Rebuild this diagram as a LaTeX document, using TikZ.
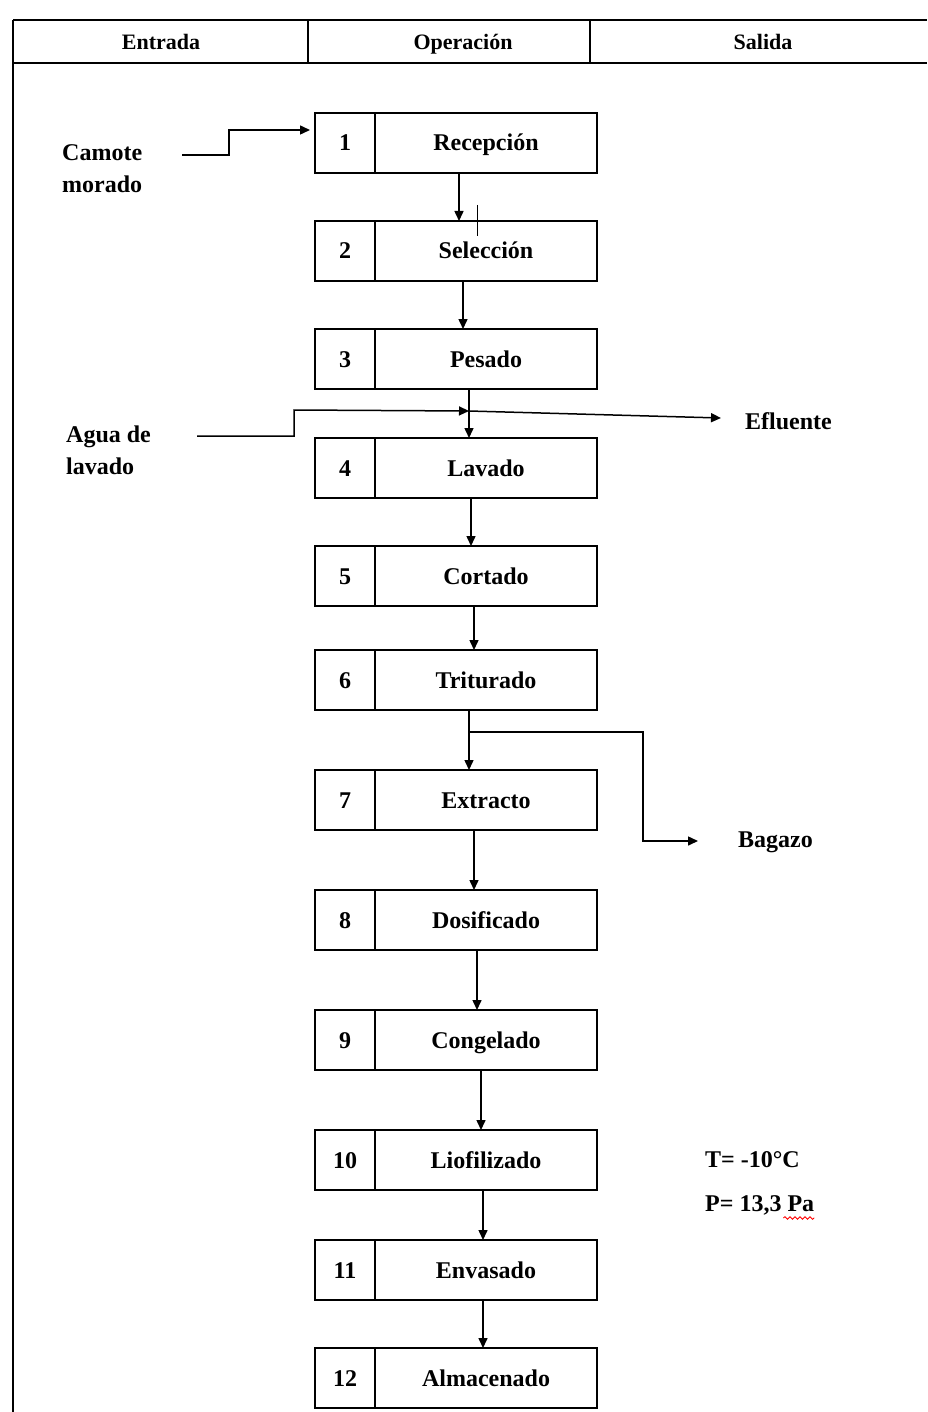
\documentclass[tikz,border=0pt]{standalone}
\usepackage{fontspec}
\setmainfont{Liberation Serif}
\usetikzlibrary{positioning,arrows.meta,calc,decorations.pathmorphing}

\begin{document}
\begin{tikzpicture}[x=1pt,y=-1pt,
  every node/.style={font=\fontsize{24}{32}\selectfont\bfseries},
  num/.style={draw,line width=1.6pt,outer sep=0pt,inner sep=0pt,minimum width=60pt,minimum height=60pt,text height=19pt,text depth=3pt},
  oper/.style={draw,line width=1.6pt,outer sep=0pt,inner sep=0pt,minimum width=222pt,minimum height=60pt,text height=19pt,text depth=3pt},
  lbl/.style={align=left,anchor=west,inner sep=0pt},
  head/.style={font=\fontsize{22}{25}\selectfont\bfseries,text height=18pt,text depth=3pt},
  linea/.style={line width=1.5pt},
  arrow/.style={-{Triangle[length=10pt,width=9pt]},line width=1.5pt}
]
  \useasboundingbox (0,0) rectangle (927,1412);

  % tabla
  \draw[line width=1.8pt] (13,20) -- (927,20);
  \draw[line width=1.8pt] (13,63) -- (927,63);
  \draw[line width=1.8pt] (13,20) -- (13,1412);
  \draw[line width=1.8pt] (308,20) -- (308,63);
  \draw[line width=1.8pt] (590,20) -- (590,63);
  \node[head] (hent) at (161,42) {Entrada};
  \node[head] (hope) at (463,42) {Operación};
  \node[head] (hsal) at (763,42) {Salida};

  % operaciones
  \node[num] (n1) at (345,143) {1};
  \node[oper,right=0pt of n1] (s1) {Recepción};
  \node[num] (n2) at (345,251) {2};
  \node[oper,right=0pt of n2] (s2) {Selección};
  \node[num] (n3) at (345,359) {3};
  \node[oper,right=0pt of n3] (s3) {Pesado};
  \node[num] (n4) at (345,468) {4};
  \node[oper,right=0pt of n4] (s4) {Lavado};
  \node[num] (n5) at (345,576) {5};
  \node[oper,right=0pt of n5] (s5) {Cortado};
  \node[num] (n6) at (345,680) {6};
  \node[oper,right=0pt of n6] (s6) {Triturado};
  \node[num] (n7) at (345,800) {7};
  \node[oper,right=0pt of n7] (s7) {Extracto};
  \node[num] (n8) at (345,920) {8};
  \node[oper,right=0pt of n8] (s8) {Dosificado};
  \node[num] (n9) at (345,1040) {9};
  \node[oper,right=0pt of n9] (s9) {Congelado};
  \node[num] (n10) at (345,1160) {10};
  \node[oper,right=0pt of n10] (s10) {Liofilizado};
  \node[num] (n11) at (345,1270) {11};
  \node[oper,right=0pt of n11] (s11) {Envasado};
  \node[num] (n12) at (345,1378) {12};
  \node[oper,right=0pt of n12] (s12) {Almacenado};

  % entradas y salidas
  \node[lbl] (camote) at (62,169) {Camote\\morado};
  \node[lbl] (agua) at (66,450) {Agua de\\lavado};
  \node[lbl] (efl) at (745,421) {Efluente};
  \node[lbl] (bag) at (738,842) {Bagazo};
  \node[lbl] (temp) at (705,1160) {T= -10°C};
  \node[lbl] (pres) at (705,1205) {P= 13,3 Pa};
  \coordinate (cam0) at (182,155);
  \coordinate (agua0) at (197,436);
  \coordinate (cruce) at (469,411);

  \draw[arrow,shorten >=5pt] (cam0) -| (229,130) -- (n1.west |- 0,130);
  \draw[arrow] (s1.south -| 459,0) -- (s2.north -| 459,0);
  \draw[linea,line width=0.9pt] (477,205) -- (477,236);
  \draw[arrow] (s2.south -| 463,0) -- (s3.north -| 463,0);
  \draw[arrow] (s3.south -| 469,0) -- (s4.north -| 469,0);
  \draw[arrow] (agua0) -| (294,410) -- (cruce);
  \draw[arrow] (cruce) -- ($(efl.west)+(-24,-3)$);
  \draw[arrow] (s4.south -| 471,0) -- (s5.north -| 471,0);
  \draw[arrow] (s5.south -| 474,0) -- (s6.north -| 474,0);
  \draw[arrow] (s6.south -| 469,0) -- (s7.north -| 469,0);
  \draw[arrow,shorten >=40pt] (469,732) -| (643,841) -- (bag.west |- 0,841);
  \draw[arrow] (s7.south -| 474,0) -- (s8.north -| 474,0);
  \draw[arrow] (s8.south -| 477,0) -- (s9.north -| 477,0);
  \draw[arrow] (s9.south -| 481,0) -- (s10.north -| 481,0);
  \draw[arrow] (s10.south -| 483,0) -- (s11.north -| 483,0);
  \draw[arrow] (s11.south -| 483,0) -- (s12.north -| 483,0);

  % subrayado del corrector
  \draw[red,line width=0.9pt,decorate,decoration={snake,amplitude=1.3pt,segment length=5pt}]
    ($(pres.south east)+(-31,3)$) -- ($(pres.south east)+(0,3)$);
\end{tikzpicture}
\end{document}
